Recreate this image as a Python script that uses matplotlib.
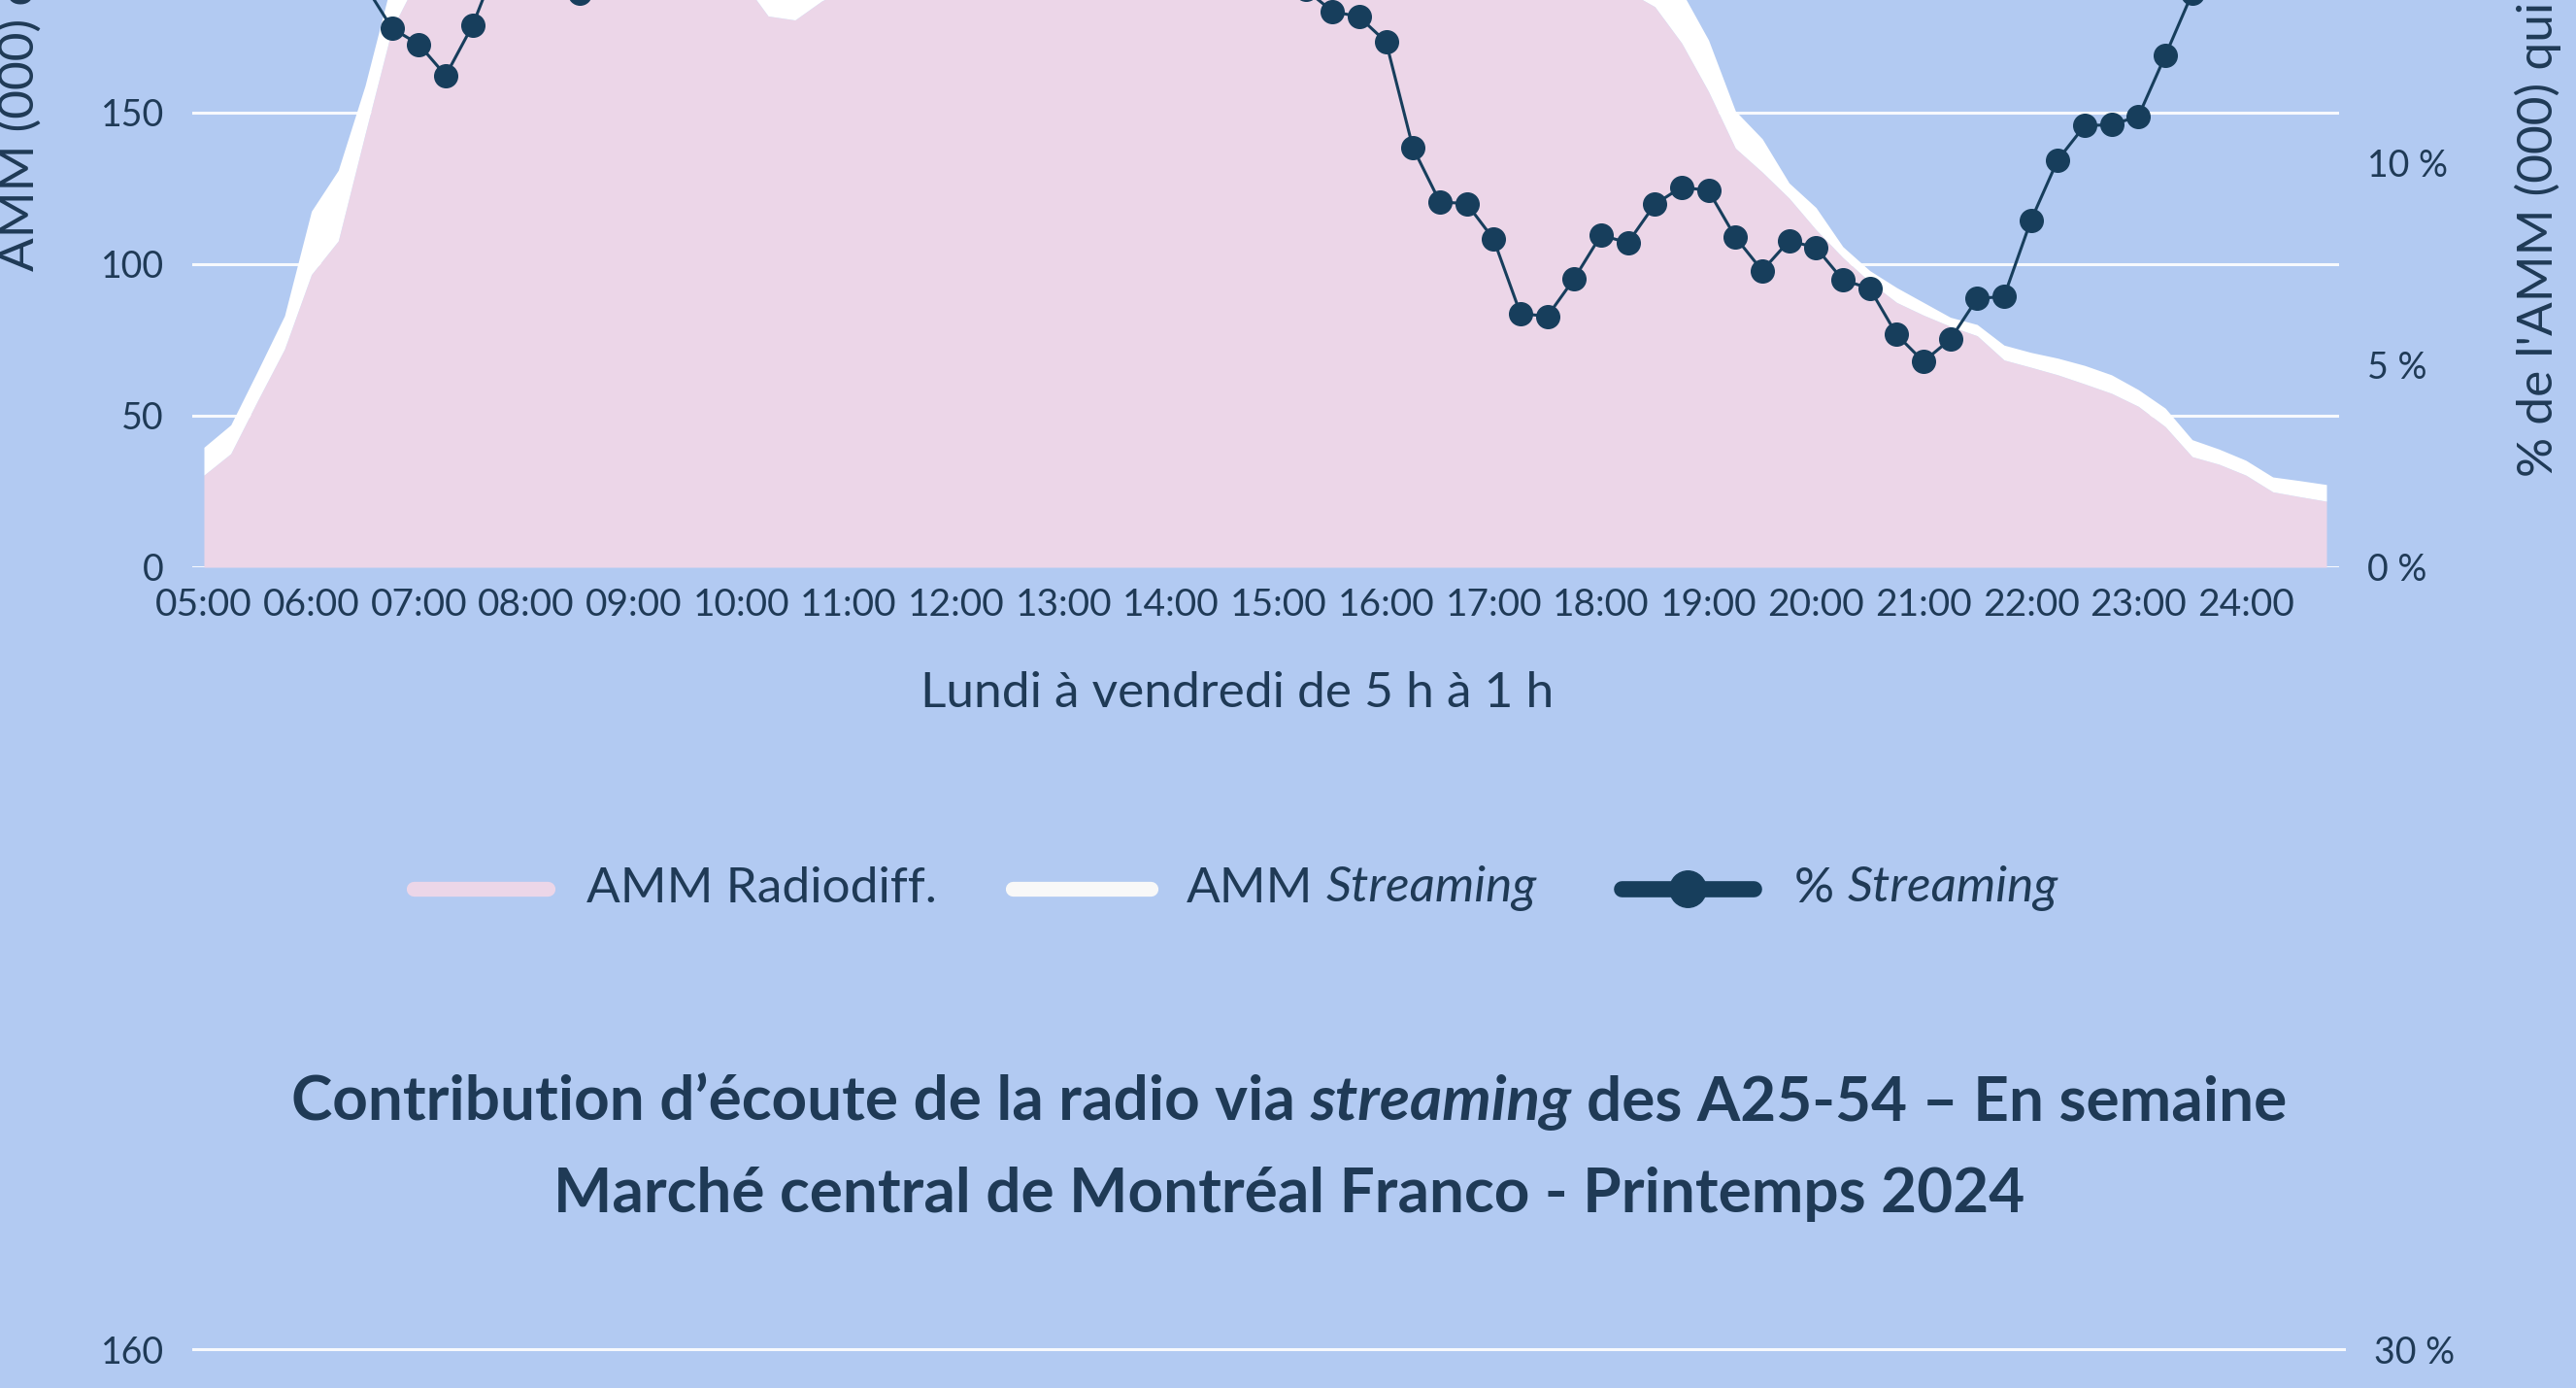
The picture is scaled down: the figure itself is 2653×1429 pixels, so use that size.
import numpy as np
import matplotlib.pyplot as plt
from matplotlib.lines import Line2D

plt.rcParams['font.family'] = ['Lato', 'DejaVu Sans']

W, H = 2653, 1429
BG = '#b2caf2'
PINK = '#ecd6e8'
NAVY = '#173e5c'
TEXT = '#1f3a56'

# quarter-hour slots, 05:00 -> 24:45 (Lundi à vendredi)
hour_labels = ["05:00", "06:00", "07:00", "08:00", "09:00", "10:00", "11:00", "12:00", "13:00", "14:00",
               "15:00", "16:00", "17:00", "18:00", "19:00", "20:00", "21:00", "22:00", "23:00", "24:00"]

# AMM (000) radiodiffusion
radio = [30.4, 37.5, 55.0, 72.0, 96.6, 107.7, 143.0, 177.6, 195, 205,
         212, 215, 213, 208, 204, 201, 199, 198, 197, 196,
         194, 181.9, 180.6, 186.9, 191, 194, 196, 198, 199, 198,
         197, 196, 197, 198, 199, 200, 201, 203, 205, 206,
         207, 208, 209, 210, 212, 214, 215, 214, 212, 208,
         203, 198, 194, 190, 185, 173, 157, 138.3, 130.4, 121.8,
         111.4, 102.2, 94.2, 87.4, 83.2, 79.5, 76.4, 68.4, 66.0, 63.5,
         60.5, 57.4, 53.1, 46.4, 36.5, 34.0, 30.4, 24.9, 23.3, 21.8]

# AMM (000) streaming
streaming = [9.2, 9.5, 9.8, 11.0, 20.9, 23.3, 16.0, 16.0, 18, 19,
             20, 21, 21, 20, 20, 20, 21, 21, 22, 22,
             23, 23, 23, 24, 24, 25, 25, 25, 26, 26,
             25, 25, 25, 25, 24, 24, 24, 24, 24, 23,
             23, 23, 22, 22, 21, 19, 18, 17, 16, 15,
             14, 14, 14, 15, 13, 17, 17, 12.3, 11.0, 5.0,
             7.3, 3.6, 3.7, 4.9, 4.2, 3.0, 3.7, 4.9, 4.9, 5.5,
             6.1, 6.1, 5.5, 6.1, 5.6, 5.0, 4.9, 4.9, 5.3, 5.5]

# % de l'AMM qui écoute en streaming
pct = [22.0, 20.5, 19.0, 18.0, 16.8, 15.5, 14.4, 13.34, 12.94, 12.17,
       13.41, 15.1, 15.4, 14.9, 14.2, 14.6, 15.2, 15.6, 15.3, 15.9,
       16.3, 16.0, 16.5, 16.8, 16.4, 16.9, 17.2, 16.8, 17.0, 17.4,
       17.1, 16.7, 16.9, 16.5, 16.2, 16.4, 15.9, 15.6, 15.8, 15.2,
       14.8, 14.3, 13.76, 13.62, 13.0, 10.38, 9.04, 9.0, 8.12, 6.28,
       6.21, 7.14, 8.22, 8.03, 8.98, 9.41, 9.32, 8.17, 7.34, 8.08,
       7.91, 7.11, 6.90, 5.76, 5.09, 5.64, 6.65, 6.70, 8.58, 10.08,
       10.93, 10.95, 11.16, 12.66, 14.2, 15.5, 16.4, 17.3, 18.0, 18.8]

left_ticks = [0, 50, 100, 150, 200]
right_ticks = [0, 5, 10, 15]


def fx(px):
    return px / W


def fy(py):
    return 1 - py / H


fig = plt.figure(figsize=(W / 100, H / 100), dpi=100, facecolor=BG)

x = np.arange(len(radio))
total = np.array(radio) + np.array(streaming)

slot = 27.67
ax = fig.add_axes([fx(198), fy(584), fx(2409) - fx(198), 624 / H])
ax.set_facecolor('none')
ax.set_xlim(-12 / slot, len(radio) - 1 + 13 / slot)
ax.set_ylim(0, 200)
ax.fill_between(x, 0, radio, color=PINK, lw=0, zorder=2)
ax.fill_between(x, radio, total, color='white', lw=0, zorder=2)
ax.set_axisbelow(True)
ax.yaxis.grid(True, color='white', lw=2.2, alpha=0.9)
ax.set_yticks(left_ticks)
ax.set_yticklabels([str(v) for v in left_ticks])
ax.set_xticks(np.arange(0, len(radio), 4))
ax.set_xticklabels(hour_labels)
ax.tick_params(axis='y', length=0, labelsize=27, colors=TEXT, pad=21)
ax.tick_params(axis='x', length=0, labelsize=28, colors=TEXT, pad=15)
for s in ax.spines.values():
    s.set_visible(False)

ax2 = ax.twinx()
ax2.set_ylim(0, 15)
ax2.plot(x, pct, '-o', color=NAVY, lw=2.2, ms=17, zorder=3)
ax2.set_yticks(right_ticks)
ax2.set_yticklabels([f'{v} %' for v in right_ticks])
ax2.tick_params(axis='y', length=0, labelsize=27, colors=TEXT, pad=21)
for s in ax2.spines.values():
    s.set_visible(False)

# axis titles
fig.text(fx(1274), fy(714), "Lundi à vendredi de 5 h à 1 h", fontsize=37, color=TEXT,
         ha='center', va='center')
fig.text(fx(20), fy(279), "AMM (000) cumulée", fontsize=37, color=TEXT,
         rotation=90, ha='center', va='bottom')
fig.text(fx(2614), fy(491), "% de l'AMM (000) qui écoute en streaming", fontsize=37, color=TEXT,
         rotation=90, ha='center', va='bottom')

renderer = fig.canvas.get_renderer()


def text_width(s, **kw):
    t = fig.text(0, 0, s, **kw)
    w = t.get_window_extent(renderer).width
    t.remove()
    return w


def rich_line(pieces, x_px, y_px, size, weight='normal', align='center'):
    kw = dict(fontsize=size, fontweight=weight)
    space = text_width('a a', **kw) - text_width('aa', **kw)
    widths = [text_width(s, fontstyle=st, **kw) for s, st in pieces]
    total_w = sum(widths) + space * (len(pieces) - 1)
    start = x_px - total_w / 2 if align == 'center' else x_px
    for (s, st), w in zip(pieces, widths):
        fig.text(fx(start), fy(y_px), s, fontstyle=st, color=TEXT, ha='left', va='center', **kw)
        start += w + space


# legend
leg_y = 915
fig.add_artist(Line2D([fx(426), fx(564)], [fy(leg_y)] * 2, lw=11, color=PINK,
                      solid_capstyle='round', transform=fig.transFigure))
fig.add_artist(Line2D([fx(1043), fx(1185)], [fy(leg_y)] * 2, lw=11, color='#f8f8f8',
                      solid_capstyle='round', transform=fig.transFigure))
fig.add_artist(Line2D([fx(1670), fx(1806)], [fy(leg_y)] * 2, lw=12, color=NAVY,
                      solid_capstyle='round', transform=fig.transFigure))
fig.add_artist(Line2D([fx(1738)], [fy(leg_y)], marker='o', ms=27, color=NAVY,
                      transform=fig.transFigure))
rich_line([("AMM Radiodiff.", 'normal')], 604, leg_y, 37, align='left')
rich_line([("AMM", 'normal'), ("Streaming", 'italic')], 1222, leg_y, 37, align='left')
rich_line([("%", 'normal'), ("Streaming", 'italic')], 1848, leg_y, 37, align='left')

# title of the next chart
rich_line([("Contribution d’écoute de la radio via", 'normal'), ("streaming", 'italic'),
           ("des A25-54 – En semaine", 'normal')], 1328, 1135, 46, weight='bold')
rich_line([("Marché central de Montréal Franco - Printemps 2024", 'normal')], 1328, 1230, 46,
          weight='bold')

# top of the next chart
ax3 = fig.add_axes([fx(198), fy(1359) - 630 / H, fx(2416) - fx(198), 630 / H])
ax3.set_facecolor('none')
ax3.set_ylim(0, 168)
ax3.set_yticks([0, 40, 80, 120, 160])
ax3.yaxis.grid(True, color='white', lw=2.2, alpha=0.9)
ax3.set_xticks([])
ax3.tick_params(axis='y', length=0, labelsize=27, colors=TEXT, pad=21)
for s in ax3.spines.values():
    s.set_visible(False)
ax4 = ax3.twinx()
ax4.set_ylim(0, 31.5)
ax4.set_yticks([0, 10, 20, 30])
ax4.set_yticklabels([f'{v} %' for v in [0, 10, 20, 30]])
ax4.tick_params(axis='y', length=0, labelsize=27, colors=TEXT, pad=21)
for s in ax4.spines.values():
    s.set_visible(False)

fig.savefig('out.png', dpi=100, facecolor=BG)
